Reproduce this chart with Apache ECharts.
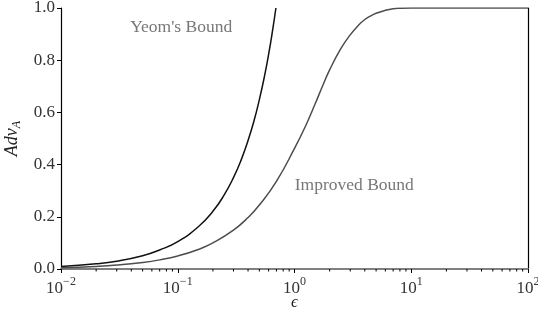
<!DOCTYPE html>
<html>
<head>
<meta charset="utf-8">
<script src="https://cdn.jsdelivr.net/npm/echarts@6/dist/echarts.min.js"></script>
<style>
  html, body { margin: 0; padding: 0; background: #fff; }
  #chart { width: 538px; height: 316px; }
</style>
</head>
<body>
<div id="chart"></div>
<script>
// epsilon values and the two bounds
const yeomEps = [0.01, 0.02, 0.03, 0.05, 0.07, 0.1, 0.15, 0.2, 0.25, 0.3, 0.35, 0.4, 0.45, 0.5, 0.55, 0.6, 0.65, 0.693];
const yeomAdv = [0.010, 0.020, 0.030, 0.051, 0.073, 0.105, 0.162, 0.221, 0.284, 0.350, 0.419, 0.492, 0.568, 0.649, 0.733, 0.822, 0.916, 1.0];

const impEps = [0.01, 0.02, 0.03, 0.05, 0.07, 0.1, 0.15, 0.2, 0.3, 0.4, 0.5, 0.7, 1, 1.25, 1.5, 1.75, 2, 2.5, 3, 3.5, 4, 4.5, 5, 6, 7, 8, 10, 100];
const impAdv = [0.005, 0.010, 0.015, 0.025, 0.035, 0.050, 0.075, 0.100, 0.149, 0.197, 0.245, 0.336, 0.462, 0.55, 0.632, 0.704, 0.763, 0.845, 0.897, 0.932, 0.956, 0.970, 0.980, 0.991, 0.997, 0.999, 1.0, 1.0];

const xTickExp = ['−2', '−1', '0', '1', '2'];
const minorTicks = [2, 3, 4, 5, 6, 7, 8, 9].flatMap(m => [m * 0.01, m * 0.1, m, m * 10]);

const serif = '"Liberation Serif", "DejaVu Serif", serif';

function pairs(xs, ys) {
  return xs.map((x, i) => [x, ys[i]]);
}

const labelStyle = {
  show: true,
  position: 'inside',
  fontFamily: serif,
  fontSize: 17.5,
  color: '#555'
};

let chart = echarts.init(document.getElementById('chart'));
chart.setOption({
  animation: false,
  grid: { left: 61, right: 10, top: 8, bottom: 47, outerBoundsMode: 'none', containLabel: false },
  xAxis: [{
    type: 'log',
    logBase: 10,
    min: 0.01,
    max: 100,
    name: 'ϵ',
    nameLocation: 'middle',
    nameGap: 34,
    nameMoveOverlap: false,
    nameTextStyle: { fontFamily: serif, fontSize: 17, fontStyle: 'italic', color: '#222', verticalAlign: 'middle' },
    axisLine: { lineStyle: { color: '#000', width: 1.2 } },
    axisTick: { inside: false, length: 4, lineStyle: { color: '#000' } },
    splitLine: { show: false },
    axisLabel: {
      margin: 7,
      formatter: function (v) {
        let e = Math.round(Math.log10(v));
        return '{b|10}{s|' + xTickExp[e + 2] + '}';
      },
      rich: {
        b: { fontFamily: serif, fontSize: 17, color: '#333', verticalAlign: 'bottom' },
        s: { fontFamily: serif, fontSize: 12, color: '#333', verticalAlign: 'top', padding: [0, 0, 9, 0] }
      }
    }
  }, {
    type: 'log',
    position: 'top',
    min: 0.01,
    max: 100,
    axisLine: { lineStyle: { color: '#808080', width: 2 } },
    axisTick: { show: false },
    axisLabel: { show: false },
    splitLine: { show: false }
  }],
  yAxis: [{
    type: 'value',
    min: 0,
    max: 1,
    interval: 0.2,
    name: '{i|Adv}{s|A}',
    nameLocation: 'middle',
    nameGap: 35,
    nameRotate: 90,
    nameTextStyle: {
      rich: {
        i: { fontFamily: serif, fontSize: 18, fontStyle: 'italic', color: '#222' },
        s: { fontFamily: serif, fontSize: 12, fontStyle: 'italic', color: '#222', padding: [9, 0, 0, 0] }
      }
    },
    axisLine: { show: true, lineStyle: { color: '#000', width: 1.2 } },
    axisTick: { show: true, length: 4, lineStyle: { color: '#000' } },
    splitLine: { show: false },
    axisLabel: {
      margin: 6,
      fontFamily: serif,
      fontSize: 17,
      color: '#333',
      formatter: v => v.toFixed(1)
    }
  }, {
    type: 'value',
    position: 'right',
    min: 0,
    max: 1,
    axisLine: { show: true, lineStyle: { color: '#000', width: 1.2 } },
    axisTick: { show: false },
    axisLabel: { show: false },
    splitLine: { show: false }
  }],
  series: [
    {
      name: "Yeom's Bound",
      type: 'line',
      data: pairs(yeomEps, yeomAdv),
      smooth: true,
      showSymbol: false,
      lineStyle: { color: '#111', width: 1.5 }
    },
    {
      name: 'Improved Bound',
      type: 'line',
      data: pairs(impEps, impAdv),
      smooth: 0.5,
      showSymbol: false,
      lineStyle: { color: '#4d4d4d', width: 1.5 }
    },
    {
      // minor log ticks on the x axis
      type: 'custom',
      silent: true,
      clip: false,
      data: minorTicks.map(v => [v, 0]),
      renderItem: function (params, api) {
        let p = api.coord([api.value(0), 0]);
        return {
          type: 'line',
          shape: { x1: p[0], y1: p[1], x2: p[0], y2: p[1] + 2.5 },
          style: { stroke: '#000', lineWidth: 1 }
        };
      }
    },
    {
      // labels next to the curves
      type: 'scatter',
      symbolSize: 0,
      silent: true,
      data: [
        { value: [0.107, 0.925], label: Object.assign({}, labelStyle, { formatter: "Yeom's Bound" }) },
        { value: [3.25, 0.322], label: Object.assign({}, labelStyle, { formatter: 'Improved Bound' }) }
      ],
      label: labelStyle
    }
  ]
});
</script>
</body>
</html>
